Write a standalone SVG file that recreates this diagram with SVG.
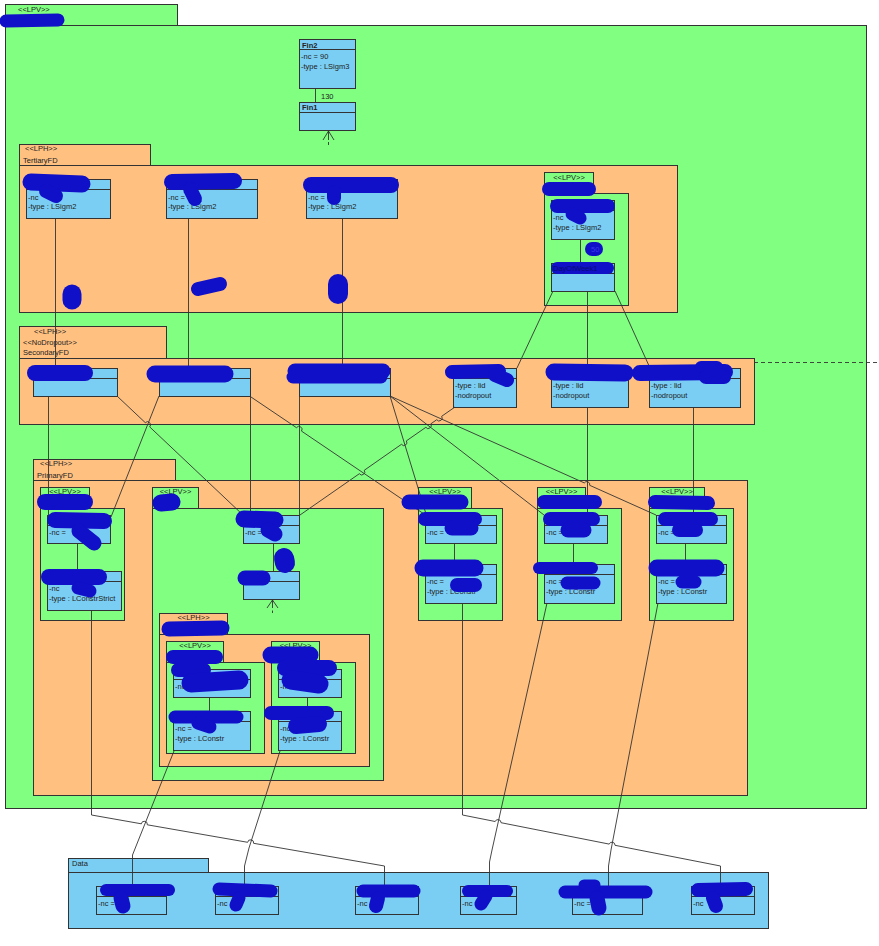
<svg xmlns="http://www.w3.org/2000/svg" width="879" height="946" viewBox="0 0 879 946">
<style>
.pg{fill:#80ff80;stroke:#333;stroke-width:1}
.po{fill:#ffc080;stroke:#333;stroke-width:1}
.pb{fill:#7acef4;stroke:#333;stroke-width:1}
.cl{fill:#7acef4;stroke:#333;stroke-width:1}
.sp{stroke:#333;stroke-width:1}
.t{font-family:"Liberation Sans",Arial,sans-serif;font-size:7.5px;fill:#222}
.tb{font-family:"Liberation Sans",Arial,sans-serif;font-size:7.5px;font-weight:bold;fill:#222}
.tm{text-anchor:middle}
.c{stroke:#333;stroke-width:0.9;fill:none}
.b{stroke:#1010c8;stroke-linecap:round;stroke-linejoin:round;fill:none}
</style>
<rect width="879" height="946" fill="#ffffff"/>
<g id="pkg-top">
<rect class="pg" x="5.5" y="4.5" width="172" height="21"/>
<rect class="pg" x="5.5" y="25.5" width="861" height="783"/>
<text class="t" x="18" y="12">&lt;&lt;LPV&gt;&gt;</text>
</g>
<g id="Fin2">
<rect class="cl" x="299.5" y="39.5" width="56" height="49"/>
<line class="sp" x1="299.5" y1="49.5" x2="355.5" y2="49.5"/>
<text class="tb" x="302" y="47.5">Fin2</text>
<text class="t" x="301" y="59">-nc = 90</text>
<text class="t" x="301" y="69">-type : LSigm3</text>
</g>
<g id="Fin1">
<rect class="cl" x="299.5" y="102.5" width="56" height="28"/>
<line class="sp" x1="299.5" y1="112.5" x2="355.5" y2="112.5"/>
<text class="tb" x="302" y="110">Fin1</text>
</g>
<g id="TertiaryFD">
<rect class="po" x="19.5" y="144.5" width="131" height="21"/>
<rect class="po" x="19.5" y="165.5" width="658" height="147"/>
<text class="t" x="25" y="151">&lt;&lt;LPH&gt;&gt;</text>
<text class="t" x="23" y="163">TertiaryFD</text>
</g>
<g id="T1">
<rect class="cl" x="26.5" y="179.5" width="84" height="39"/>
<line class="sp" x1="26.5" y1="189.5" x2="110.5" y2="189.5"/>
<text class="t" x="28" y="200">-nc</text>
<text class="t" x="28" y="209">-type : LSigm2</text>
</g>
<g id="T2">
<rect class="cl" x="166.5" y="179.5" width="91" height="39"/>
<line class="sp" x1="166.5" y1="189.5" x2="257.5" y2="189.5"/>
<text class="t" x="168" y="200">-nc =</text>
<text class="t" x="168" y="209">-type : LSigm2</text>
</g>
<g id="T3">
<rect class="cl" x="306.5" y="179.5" width="91" height="39"/>
<line class="sp" x1="306.5" y1="189.5" x2="397.5" y2="189.5"/>
<text class="t" x="308" y="200">-nc =</text>
<text class="t" x="308" y="209">-type : LSigm2</text>
</g>
<g id="T-LPV">
<rect class="pg" x="544.5" y="172.5" width="49" height="21"/>
<rect class="pg" x="544.5" y="193.5" width="84" height="112"/>
<text class="t tm" x="569" y="180">&lt;&lt;LPV&gt;&gt;</text>
</g>
<g id="T4">
<rect class="cl" x="551.5" y="200.5" width="63" height="39"/>
<line class="sp" x1="551.5" y1="210.5" x2="614.5" y2="210.5"/>
<text class="t" x="553" y="220">-nc</text>
<text class="t" x="553" y="230">-type : LSigm2</text>
</g>
<g id="DayOfWeek1">
<rect class="cl" x="551.5" y="263.5" width="63" height="28"/>
<line class="sp" x1="551.5" y1="273.5" x2="614.5" y2="273.5"/>
</g>
<g id="SecondaryFD">
<rect class="po" x="19.5" y="326.5" width="147" height="32"/>
<rect class="po" x="19.5" y="358.5" width="735" height="66"/>
<text class="t" x="34" y="334">&lt;&lt;LPH&gt;&gt;</text>
<text class="t" x="23" y="345">&lt;&lt;NoDropout&gt;&gt;</text>
<text class="t" x="23" y="355">SecondaryFD</text>
</g>
<g id="S1"><rect class="cl" x="33.5" y="368.5" width="84" height="28"/><line class="sp" x1="33.5" y1="378.5" x2="117.5" y2="378.5"/></g>
<g id="S2"><rect class="cl" x="159.5" y="368.5" width="91" height="28"/><line class="sp" x1="159.5" y1="378.5" x2="250.5" y2="378.5"/></g>
<g id="S3"><rect class="cl" x="299.5" y="368.5" width="91" height="28"/><line class="sp" x1="299.5" y1="378.5" x2="390.5" y2="378.5"/></g>
<g id="S4"><rect class="cl" x="453.5" y="368.5" width="63" height="39"/><line class="sp" x1="453.5" y1="378.5" x2="516.5" y2="378.5"/>
<text class="t" x="455" y="388">-type : lid</text><text class="t" x="455" y="398">-nodropout</text></g>
<g id="S5"><rect class="cl" x="551.5" y="368.5" width="77" height="39"/><line class="sp" x1="551.5" y1="378.5" x2="628.5" y2="378.5"/>
<text class="t" x="553" y="388">-type : lid</text><text class="t" x="553" y="398">-nodropout</text></g>
<g id="S6"><rect class="cl" x="649.5" y="368.5" width="91" height="39"/><line class="sp" x1="649.5" y1="378.5" x2="740.5" y2="378.5"/>
<text class="t" x="651" y="388">-type : lid</text><text class="t" x="651" y="398">-nodropout</text></g>
<g id="PrimaryFD">
<rect class="po" x="33.5" y="459.5" width="142" height="21"/>
<rect class="po" x="33.5" y="480.5" width="714" height="315"/>
<text class="t" x="40" y="466">&lt;&lt;LPH&gt;&gt;</text>
<text class="t" x="37" y="478">PrimaryFD</text>
</g>
<g id="P-LPV1">
<rect class="pg" x="40.5" y="487.5" width="49" height="21"/>
<rect class="pg" x="40.5" y="508.5" width="84" height="112"/>
<text class="t tm" x="65" y="494">&lt;&lt;LPV&gt;&gt;</text>
</g>
<g id="P1a"><rect class="cl" x="47.5" y="515.5" width="63" height="28"/><line class="sp" x1="47.5" y1="525.5" x2="110.5" y2="525.5"/><text class="t" x="49" y="535">-nc =</text></g>
<g id="P1b"><rect class="cl" x="47.5" y="571.5" width="74" height="39"/><line class="sp" x1="47.5" y1="581.5" x2="121.5" y2="581.5"/><text class="t" x="49" y="591">-nc</text><text class="t" x="49" y="601">-type : LConstrStrict</text></g>
<g id="P-LPV2">
<rect class="pg" x="152.5" y="487.5" width="46" height="21"/>
<rect class="pg" x="152.5" y="508.5" width="231" height="272"/>
<text class="t tm" x="175.5" y="494">&lt;&lt;LPV&gt;&gt;</text>
</g>
<g id="P2c"><rect class="cl" x="243.5" y="515.5" width="56" height="28"/><line class="sp" x1="243.5" y1="525.5" x2="299.5" y2="525.5"/><text class="t" x="245" y="535">-nc =</text></g>
<g id="P2d"><rect class="cl" x="243.5" y="571.5" width="56" height="28"/><line class="sp" x1="243.5" y1="581.5" x2="299.5" y2="581.5"/></g>
<g id="P-LPH">
<rect class="po" x="159.5" y="613.5" width="68" height="21"/>
<rect class="po" x="159.5" y="634.5" width="210" height="132"/>
<text class="t tm" x="193.5" y="620">&lt;&lt;LPH&gt;&gt;</text>
</g>
<g id="P-LPVa">
<rect class="pg" x="166.5" y="641.5" width="57" height="21"/>
<rect class="pg" x="166.5" y="662.5" width="98" height="91"/>
<text class="t tm" x="195" y="648">&lt;&lt;LPV&gt;&gt;</text>
</g>
<g id="Pa1"><rect class="cl" x="173.5" y="669.5" width="77" height="28"/><line class="sp" x1="173.5" y1="679.5" x2="250.5" y2="679.5"/><text class="t" x="175" y="689">-nc</text></g>
<g id="Pa2"><rect class="cl" x="173.5" y="711.5" width="77" height="39"/><line class="sp" x1="173.5" y1="721.5" x2="250.5" y2="721.5"/><text class="t" x="175" y="731">-nc =</text><text class="t" x="175" y="741">-type : LConstr</text></g>
<g id="P-LPVb">
<rect class="pg" x="271.5" y="641.5" width="48" height="21"/>
<rect class="pg" x="271.5" y="662.5" width="84" height="91"/>
<text class="t tm" x="295.5" y="648">&lt;&lt;LPV&gt;&gt;</text>
</g>
<g id="Pb1"><rect class="cl" x="278.5" y="669.5" width="63" height="28"/><line class="sp" x1="278.5" y1="679.5" x2="341.5" y2="679.5"/><text class="t" x="280" y="689">-nc</text></g>
<g id="Pb2"><rect class="cl" x="278.5" y="711.5" width="63" height="39"/><line class="sp" x1="278.5" y1="721.5" x2="341.5" y2="721.5"/><text class="t" x="280" y="731">-nc</text><text class="t" x="280" y="741">-type : LConstr</text></g>
<g id="P-LPV3">
<rect class="pg" x="418.5" y="487.5" width="53" height="21"/>
<rect class="pg" x="418.5" y="508.5" width="84" height="112"/>
<text class="t tm" x="445" y="494">&lt;&lt;LPV&gt;&gt;</text>
</g>
<g id="P3a"><rect class="cl" x="425.5" y="515.5" width="71" height="28"/><line class="sp" x1="425.5" y1="525.5" x2="496.5" y2="525.5"/><text class="t" x="427" y="535">-nc =</text></g>
<g id="P3b"><rect class="cl" x="425.5" y="564.5" width="71" height="39"/><line class="sp" x1="425.5" y1="574.5" x2="496.5" y2="574.5"/><text class="t" x="427" y="584">-nc =</text><text class="t" x="427" y="594">-type : LConstr</text></g>
<g id="P-LPV4">
<rect class="pg" x="537.5" y="487.5" width="48" height="21"/>
<rect class="pg" x="537.5" y="508.5" width="84" height="112"/>
<text class="t tm" x="561.5" y="494">&lt;&lt;LPV&gt;&gt;</text>
</g>
<g id="P4a"><rect class="cl" x="544.5" y="515.5" width="63" height="28"/><line class="sp" x1="544.5" y1="525.5" x2="607.5" y2="525.5"/><text class="t" x="546" y="535">-nc =</text></g>
<g id="P4b"><rect class="cl" x="544.5" y="564.5" width="70" height="39"/><line class="sp" x1="544.5" y1="574.5" x2="614.5" y2="574.5"/><text class="t" x="546" y="584">-nc =</text><text class="t" x="546" y="594">-type : LConstr</text></g>
<g id="P-LPV5">
<rect class="pg" x="649.5" y="487.5" width="55" height="21"/>
<rect class="pg" x="649.5" y="508.5" width="84" height="112"/>
<text class="t tm" x="677" y="494">&lt;&lt;LPV&gt;&gt;</text>
</g>
<g id="P5a"><rect class="cl" x="656.5" y="515.5" width="70" height="28"/><line class="sp" x1="656.5" y1="525.5" x2="726.5" y2="525.5"/><text class="t" x="658" y="535">-nc =</text></g>
<g id="P5b"><rect class="cl" x="656.5" y="564.5" width="70" height="39"/><line class="sp" x1="656.5" y1="574.5" x2="726.5" y2="574.5"/><text class="t" x="658" y="584">-nc =</text><text class="t" x="658" y="594">-type : LConstr</text></g>
<g id="Data">
<rect class="pb" x="68.5" y="858.5" width="140" height="14"/>
<rect class="pb" x="68.5" y="872.5" width="700" height="56"/>
<text class="t" x="72" y="866">Data</text>
</g>
<g id="D1"><rect class="cl" x="96.5" y="886.5" width="70" height="28"/><line class="sp" x1="96.5" y1="896.5" x2="166.5" y2="896.5"/><text class="t" x="98" y="906">-nc =</text></g>
<g id="D2"><rect class="cl" x="215.5" y="886.5" width="63" height="28"/><line class="sp" x1="215.5" y1="896.5" x2="278.5" y2="896.5"/><text class="t" x="217" y="906">-nc</text></g>
<g id="D3"><rect class="cl" x="355.5" y="886.5" width="63" height="28"/><line class="sp" x1="355.5" y1="896.5" x2="418.5" y2="896.5"/><text class="t" x="357" y="906">-nc</text></g>
<g id="D4"><rect class="cl" x="460.5" y="886.5" width="56" height="28"/><line class="sp" x1="460.5" y1="896.5" x2="516.5" y2="896.5"/><text class="t" x="462" y="906">-nc =</text></g>
<g id="D5"><rect class="cl" x="572.5" y="886.5" width="70" height="28"/><line class="sp" x1="572.5" y1="896.5" x2="642.5" y2="896.5"/><text class="t" x="574" y="906">-nc =</text></g>
<g id="D6"><rect class="cl" x="691.5" y="886.5" width="63" height="28"/><line class="sp" x1="691.5" y1="896.5" x2="754.5" y2="896.5"/><text class="t" x="693" y="906">-nc</text></g>
<g id="connectors">
<path class="c" d="M315.5 89 L315.5 102"/>
<text class="t" x="321" y="99">130</text>
<path class="c" d="M323 140 L328.5 131 L334 140 M328.5 131 L328.5 140 M328.5 142 L328.5 145"/>
<path class="c" d="M55.5 218 L55.5 368"/>
<path class="c" d="M188.5 218 L188.5 368"/>
<path class="c" d="M342.5 218 L342.5 368"/>
<path class="c" d="M580.5 239 L580.5 263"/>
<path class="c" d="M553 291 L517 368"/>
<path class="c" d="M587.5 291 L587.5 368"/>
<path class="c" d="M615 291 L650 368"/>
<path class="c" d="M754 362.5 L879 362.5" stroke-dasharray="4 3"/>
<path class="c" d="M48.5 396 L48.5 515"/>
<path class="c" d="M117 396 L145.3 422.7 A3 3 0 0 1 149.7 426.9 L243 515"/>
<path class="c" d="M159 396 L111 517"/>
<path class="c" d="M250.5 396 L250.5 515"/>
<path class="c" d="M251 397 L296.5 427.7 A3 3 0 0 1 301.5 431.1 L424 514"/>
<path class="c" d="M299.5 396 L299.5 515"/>
<path class="c" d="M455 407 L441.66 416.29 A3 3 0 0 1 436.74 419.72 L430.76 423.89 A3 3 0 0 1 425.84 427.32 L406.36 440.89 A3 3 0 0 1 401.44 444.32 L364.26 470.29 A3 3 0 0 1 359.34 473.72 L300 515"/>
<path class="c" d="M390 396 L426 514"/>
<path class="c" d="M390 396 L544 515"/>
<path class="c" d="M390 396 L584.3 482.9 A3 3 0 0 1 589.7 485.3 L656 515"/>
<path class="c" d="M587.5 407 L587.5 515"/>
<path class="c" d="M693.5 407 L693.5 515"/>
<path class="c" d="M77.5 543 L77.5 571"/>
<path class="c" d="M273.5 543 L273.5 571"/>
<path class="c" d="M267 608 L272.5 600 L278 608 M272.5 600 L272.5 608 M272.5 610.5 L272.5 613"/>
<path class="c" d="M209.5 697 L209.5 711"/>
<path class="c" d="M307.5 697 L307.5 711"/>
<path class="c" d="M454.5 543 L454.5 564"/>
<path class="c" d="M573.5 543 L573.5 564"/>
<path class="c" d="M685.5 543 L685.5 564"/>
<path class="c" d="M91.5 610 L91.5 815 L141.35 823.8 A3 3 0 0 1 147.3 824.8 L247.65 842.3 A3 3 0 0 1 253.6 843.3 L384.5 866 L384.5 886"/>
<path class="c" d="M174 751 L132.5 855 L132.5 886"/>
<path class="c" d="M280 751 L249 848 L244.5 866 L244.5 886"/>
<path class="c" d="M462.5 603 L462.5 815 L495.2 821.5 A3 3 0 0 1 501 822.7 L609.2 844.1 A3 3 0 0 1 615 845.3 L720.5 866 L720.5 886"/>
<path class="c" d="M547 603 L492 850 L489.5 862 L489.5 886"/>
<path class="c" d="M658 603 L611 850 L608.5 866 L608.5 886"/>
</g>
<g id="redactions">
<path class="b" stroke-width="13" d="M6 21 L58 20"/>
<path class="b" stroke-width="17" d="M31 182 L82 184"/>
<path class="b" stroke-width="14" d="M46 191 L56 196"/>
<path class="b" stroke-width="16" d="M172 182 L234 181"/>
<path class="b" stroke-width="14" d="M190 189 L195 199"/>
<path class="b" stroke-width="19" d="M72 294 L72 300"/>
<path class="b" stroke-width="14" d="M198 289 L220 284"/>
<path class="b" stroke-width="16" d="M311 185 L391 185"/>
<path class="b" stroke-width="14" d="M334 192 L334 198"/>
<path class="b" stroke-width="20" d="M338 284 L338 294"/>
<path class="b" stroke-width="14" d="M549 189 L589 189"/>
<path class="b" stroke-width="14" d="M557 206 L608 206"/>
<path class="b" stroke-width="13" d="M572 214 L580 218"/>
<path class="b" stroke-width="14" d="M592 249 L596 249"/>
<path class="b" stroke-width="12" d="M557 268 L608 268"/>
<path class="b" stroke-width="16" d="M35 373 L85 373"/>
<path class="b" stroke-width="17" d="M155 374 L225 374"/>
<path class="b" stroke-width="15" d="M295 371 L383 371"/>
<path class="b" stroke-width="13" d="M293 377 L381 377"/>
<path class="b" stroke-width="14" d="M452 372 L499 371"/>
<path class="b" stroke-width="14" d="M495 375 L507 380"/>
<path class="b" stroke-width="17" d="M554 372 L625 373"/>
<path class="b" stroke-width="16" d="M640 373 L725 372"/>
<path class="b" stroke-width="12" d="M701 367 L717 367"/>
<path class="b" stroke-width="14" d="M706 377 L724 377"/>
<path class="b" stroke-width="16" d="M45 502 L85 502"/>
<path class="b" stroke-width="16" d="M55 520 L104 521"/>
<path class="b" stroke-width="15" d="M79 531 L94 543"/>
<path class="b" stroke-width="16" d="M49 577 L99 577"/>
<path class="b" stroke-width="13" d="M78 588 L90 591"/>
<path class="b" stroke-width="17" d="M161 503 L172 502"/>
<path class="b" stroke-width="17" d="M244 519 L275 520"/>
<path class="b" stroke-width="15" d="M268 530 L275 534"/>
<path class="b" stroke-width="20" d="M284 558 L285 563"/>
<path class="b" stroke-width="15" d="M245 578 L263 578"/>
<path class="b" stroke-width="15" d="M169 629 L222 628"/>
<path class="b" stroke-width="14" d="M173 657 L216 657"/>
<path class="b" stroke-width="14" d="M178 670 L204 670"/>
<path class="b" stroke-width="19" d="M191 683 L239 680"/>
<path class="b" stroke-width="13" d="M175 717 L237 717"/>
<path class="b" stroke-width="13" d="M198 723 L210 727"/>
<path class="b" stroke-width="17" d="M271 655 L310 655"/>
<path class="b" stroke-width="16" d="M285 668 L329 668"/>
<path class="b" stroke-width="19" d="M291 680 L319 684"/>
<path class="b" stroke-width="14" d="M271 713 L327 713"/>
<path class="b" stroke-width="16" d="M296 726 L319 724"/>
<path class="b" stroke-width="15" d="M409 502 L461 502"/>
<path class="b" stroke-width="14" d="M425 519 L475 519"/>
<path class="b" stroke-width="15" d="M452 528 L471 528"/>
<path class="b" stroke-width="17" d="M423 568 L475 568"/>
<path class="b" stroke-width="14" d="M457 585 L475 585"/>
<path class="b" stroke-width="14" d="M544 502 L595 502"/>
<path class="b" stroke-width="14" d="M550 519 L593 519"/>
<path class="b" stroke-width="15" d="M568 530 L584 530"/>
<path class="b" stroke-width="12" d="M539 568 L592 568"/>
<path class="b" stroke-width="13" d="M567 583 L594 583"/>
<path class="b" stroke-width="14" d="M655 502 L708 503"/>
<path class="b" stroke-width="14" d="M665 519 L711 519"/>
<path class="b" stroke-width="14" d="M679 530 L696 530"/>
<path class="b" stroke-width="17" d="M657 568 L716 568"/>
<path class="b" stroke-width="13" d="M682 582 L695 582"/>
<path class="b" stroke-width="12" d="M106 890 L169 890"/>
<path class="b" stroke-width="15" d="M121 898 L123 906"/>
<path class="b" stroke-width="13" d="M219 889 L271 891"/>
<path class="b" stroke-width="13" d="M239 898 L236 905"/>
<path class="b" stroke-width="13" d="M363 891 L414 891"/>
<path class="b" stroke-width="14" d="M378 898 L376 906"/>
<path class="b" stroke-width="12" d="M468 891 L507 891"/>
<path class="b" stroke-width="13" d="M486 896 L481 904"/>
<path class="b" stroke-width="13" d="M565 892 L646 892"/>
<path class="b" stroke-width="11" d="M584 885 L595 885"/>
<path class="b" stroke-width="15" d="M597 898 L599 908"/>
<path class="b" stroke-width="14" d="M698 890 L746 889"/>
<path class="b" stroke-width="14" d="M713 898 L716 906"/>
<text class="t" x="591" y="252" style="fill:#3a3ae8">50</text>
<text class="t" x="553" y="271" style="fill:#0a0a70">DayOfWeek1</text>
</g>
</svg>
